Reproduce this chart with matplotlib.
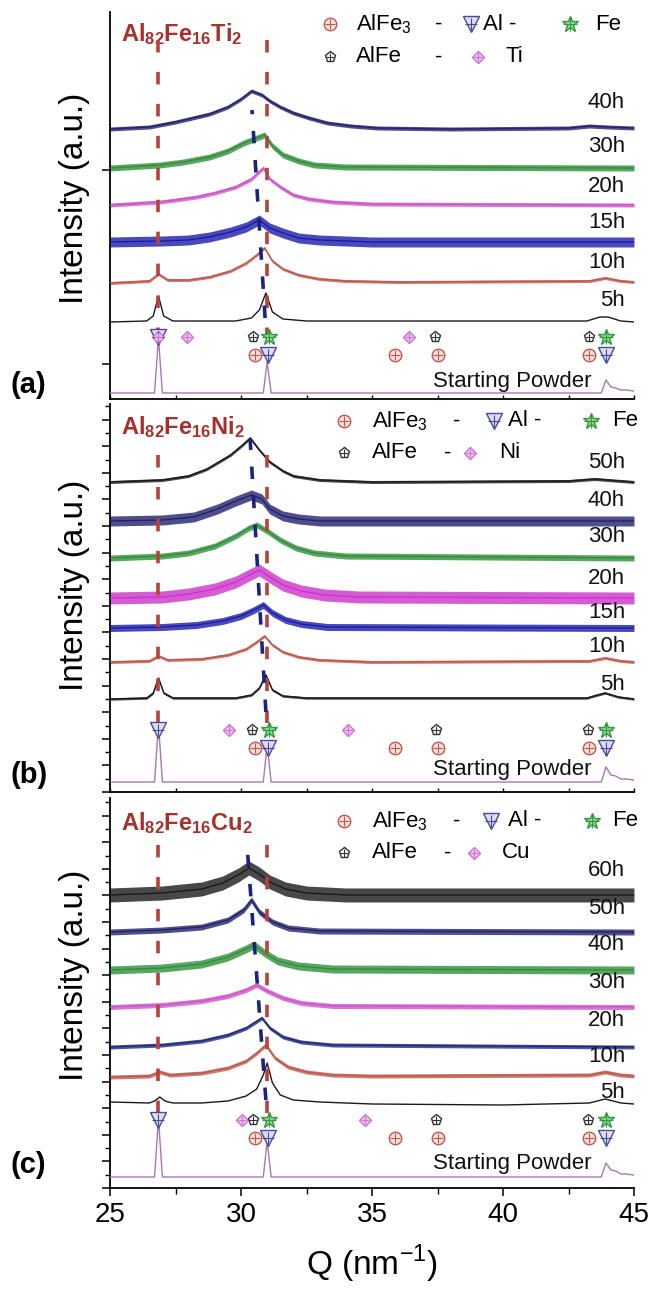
import matplotlib.pyplot as plt
from matplotlib.ticker import MultipleLocator, FixedLocator, NullFormatter
import numpy as np

plt.rcParams['font.family'] = 'Liberation Sans'
plt.rcParams['mathtext.fontset'] = 'custom'
plt.rcParams['mathtext.rm'] = 'Liberation Sans'
plt.rcParams['mathtext.bf'] = 'Liberation Sans:bold'
plt.rcParams['lines.scale_dashes'] = False

# colours
black = '#1a1a1a'
navy = '#22226e'
green = '#2f8f3a'
magenta = '#cc55cc'
blue = '#1c1caa'
brown = '#c0584e'
powder = '#a878b0'
dash_red = '#b8413a'
dash_navy = '#1a237e'
title_red = '#a8302a'

# ---------------- data: (Q, height above baseline) ----------------
# panel (a) Al82Fe16Ti2
a_sp = [(25, 0), (26.7, 0), (26.85, 55), (27.0, 0), (30.85, 0), (31.0, 31), (31.15, 0),
        (43.75, 0), (43.93, 13), (44.12, 6), (44.3, 5), (44.5, 3), (44.7, 3), (45, 2)]
a_5h = [(25, 0), (26.4, 1), (26.65, 6), (26.85, 26), (27.05, 6), (27.4, 1), (29.8, 1), (30.4, 4),
        (30.7, 12), (30.95, 29), (31.2, 10), (31.6, 3), (32.5, 1), (43.2, 1), (43.7, 5), (44.0, 5),
        (44.5, 1), (45, 0)]
a_10h = [(25, 0), (26.5, 2), (26.85, 9), (27.2, 3), (28.0, 3), (28.8, 6), (29.6, 12), (30.2, 20),
         (30.6, 28), (30.9, 35), (31.2, 22), (31.6, 14), (32.2, 8), (33, 4), (34, 2), (36, 1),
         (43.3, 2), (43.9, 5), (44.5, 2), (45, 1)]
a_15h = [(25, 0), (27, 1), (28, 2), (28.8, 5), (29.6, 10), (30.2, 15), (30.7, 22), (31.1, 14),
         (31.6, 9), (32.2, 4), (33, 2), (35, 0), (45, 0)]
a_20h = [(25, 0), (26.9, 3), (27.5, 5), (28.3, 8), (29, 12), (29.8, 18), (30.4, 26), (30.85, 37),
         (31.1, 26), (31.5, 18), (32, 10), (32.6, 6), (33.5, 3), (35, 1), (45, 0)]
a_30h = [(25, 0), (26.9, 3), (27.8, 6), (28.8, 11), (29.5, 17), (30.1, 25), (30.5, 29), (30.9, 33),
         (31.2, 22), (31.6, 13), (32.2, 7), (32.8, 3), (34, 1), (45, 0)]
a_40h = [(25, 0), (26.5, 2), (27.5, 7), (28.8, 15), (29.5, 22), (30, 30), (30.4, 38), (30.8, 34),
         (31.1, 28), (31.5, 22), (32, 16), (32.6, 11), (33.3, 6), (34.2, 3), (35.2, 1), (38, 0),
         (42.5, 1), (43.3, 3), (44, 2), (45, 1)]
a_curves = [a_sp, a_5h, a_10h, a_15h, a_20h, a_30h, a_40h]
a_base = [6, 77, 116, 157, 194, 231, 270]
a_noise = [0.6, 1.0, 1.5, 5, 2, 3, 2]
a_colors = [powder, black, brown, blue, magenta, green, navy]
a_names = ['Starting Powder', '5h', '10h', '15h', '20h', '30h', '40h']

# panel (b) Al82Fe16Ni2
b_sp = [(25, 0), (26.7, 0), (26.85, 58), (27.0, 0), (30.85, 0), (31.0, 37), (31.15, 0),
        (43.75, 0), (43.93, 15), (44.12, 7), (44.3, 6), (44.5, 3), (44.7, 3), (45, 2)]
b_5h = [(25, 0), (26.4, 1), (26.65, 6), (26.85, 21), (27.05, 6), (27.4, 1), (29.8, 1), (30.4, 4),
        (30.7, 11), (30.95, 24), (31.2, 9), (31.6, 3), (32.5, 1), (43.2, 1), (43.6, 4), (43.9, 6),
        (44.4, 2), (45, 0)]
b_10h = [(25, 0), (26.5, 1), (26.85, 6), (27.2, 2), (28.5, 3), (29.5, 7), (30.2, 13), (30.6, 20),
         (30.9, 26), (31.2, 17), (31.6, 10), (32.2, 5), (33, 2), (35, 0), (43.3, 1), (43.9, 4),
         (44.5, 1), (45, 0)]
b_15h = [(25, 0), (27, 1), (28.3, 3), (29.3, 7), (30, 12), (30.5, 18), (30.85, 23), (31.2, 15),
         (31.7, 8), (32.3, 4), (33.3, 1), (45, 0)]
b_20h = [(25, 0), (27, 1), (28, 4), (29, 9), (29.8, 16), (30.4, 24), (30.7, 28), (31.1, 21),
         (31.6, 13), (32.3, 7), (33.2, 3), (34.5, 1), (45, 0)]
b_30h = [(25, 0), (27, 2), (28, 5), (29, 12), (29.8, 22), (30.3, 30), (30.6, 33), (31, 27),
         (31.5, 18), (32.1, 10), (32.8, 5), (34, 2), (45, 0)]
b_40h = [(25, 0), (27, 1), (28.2, 4), (29.1, 12), (29.8, 20), (30.4, 26), (30.8, 22), (31.1, 12),
         (31.6, 5), (32.2, 2), (33, 0), (45, 0)]
b_50h = [(25, 0), (27, 2), (28, 6), (28.7, 13), (29.6, 27), (30.1, 38), (30.35, 44), (30.7, 32),
         (31.1, 20), (31.6, 11), (32.0, 6), (33, 2), (35, 0), (42.5, 1), (43.5, 3), (44.5, 1), (45, 0)]
b_curves = [b_sp, b_5h, b_10h, b_15h, b_20h, b_30h, b_40h, b_50h]
b_base = [10, 93, 130, 164, 194, 234, 271, 310]
b_noise = [0.6, 1.2, 1.5, 3.5, 6, 3, 5, 1.5]
b_colors = [powder, black, brown, blue, '#cc33cc', green, navy, black]
b_names = ['Starting Powder', '5h', '10h', '15h', '20h', '30h', '40h', '50h']

# panel (c) Al82Fe16Cu2
c_sp = [(25, 0), (26.7, 0), (26.85, 58), (27.0, 0), (30.85, 0), (31.0, 36), (31.15, 0),
        (43.75, 0), (43.93, 14), (44.12, 7), (44.3, 6), (44.5, 3), (44.7, 3), (45, 2)]
c_5h = [(25, 3), (26.5, 2), (26.7, 4), (26.9, 8), (27.1, 4), (27.4, 2), (28.5, 2), (29.5, 4),
        (30.2, 9), (30.6, 16), (30.85, 30), (31.0, 42), (31.2, 22), (31.5, 10), (32, 5), (33, 3),
        (35, 1), (40, 0), (43.3, 2), (43.9, 6), (44.5, 2), (45, 1)]
c_10h = [(25, 0), (26.5, 1), (26.9, 5), (27.3, 2), (28.5, 4), (29.5, 9), (30.2, 16), (30.6, 24),
         (30.95, 32), (31.3, 19), (31.8, 10), (32.5, 5), (33.5, 2), (35, 1), (43.3, 2), (43.9, 5),
         (44.5, 2), (45, 1)]
c_20h = [(25, 0), (27, 2), (28.5, 6), (29.5, 12), (30.2, 19), (30.8, 29), (31.1, 19), (31.6, 10),
         (32.3, 5), (33.5, 2), (45, 0)]
c_30h = [(25, 0), (27, 2), (28.5, 6), (29.5, 11), (30.2, 17), (30.6, 22), (31.0, 16), (31.6, 9),
         (32.3, 4), (33.5, 1), (45, 0)]
c_40h = [(25, 0), (27, 2), (28.5, 6), (29.5, 13), (30.1, 20), (30.5, 25), (30.9, 17), (31.4, 9),
         (32.2, 4), (33.5, 1), (45, 0)]
c_50h = [(25, 0), (27, 2), (28.5, 5), (29.5, 12), (30.1, 22), (30.4, 32), (30.7, 20), (31.2, 10),
         (31.8, 4), (33, 1), (45, 0)]
c_60h = [(25, 0), (27, 2), (28.5, 6), (29.3, 12), (29.9, 20), (30.3, 27), (30.7, 21), (31.1, 13),
         (31.7, 6), (32.5, 2), (34, 0), (45, 0)]
c_curves = [c_sp, c_5h, c_10h, c_20h, c_30h, c_40h, c_50h, c_60h]
c_base = [11, 83, 111, 141, 181, 218, 256, 293]
c_noise = [0.6, 0.6, 2, 2, 2.5, 4, 3, 7]
c_colors = [powder, black, brown, '#1f2a80', magenta, green, navy, black]
c_names = ['Starting Powder', '5h', '10h', '20h', '30h', '40h', '50h', '60h']

# reflection markers (phase, Q)
a_row1 = [('Al', 26.85), ('Ti', 26.85), ('Ti', 27.92), ('AlFe', 30.45), ('Fe', 31.08),
          ('Ti', 36.4), ('AlFe', 37.4), ('AlFe', 43.3), ('Fe', 43.95)]
b_row1 = [('Al', 26.85), ('Ni', 29.55), ('AlFe', 30.42), ('Fe', 31.05), ('Ni', 34.1),
          ('AlFe', 37.44), ('AlFe', 43.24), ('Fe', 43.95)]
c_row1 = [('Al', 26.85), ('Cu', 30.05), ('AlFe', 30.46), ('Fe', 31.05), ('Cu', 34.73),
          ('AlFe', 37.44), ('AlFe', 43.24), ('Fe', 43.95)]
row2 = [('AlFe3', 30.55), ('Al', 31.02), ('AlFe3', 35.88), ('AlFe3', 37.5), ('AlFe3', 43.3),
        ('Al', 43.93)]

marker_style = {
    'AlFe3': dict(marker='o', ms=9, mec='#c0584e', mfc='#f6e0dc'),
    'AlFe': dict(marker='p', ms=8, mec='#333333', mfc='white'),
    'Al': dict(marker='v', ms=11, mec='#4a4a9a', mfc='#dcdcf2'),
    'Fe': dict(marker='*', ms=12, mec='#2e9b3a', mfc='#9ad49a'),
    'X': dict(marker='D', ms=6.5, mec='#d070d0', mfc='#f2c6f2'),
}

fig = plt.figure(figsize=(6.54, 12.99), dpi=100)
W, H = 654.0, 1299.0


def draw_marker(ax, phase, q, y):
    st = marker_style.get(phase, marker_style['X'])
    ax.plot([q], [y], ls='none', mew=1.0, zorder=6, **st)
    ax.plot([q], [y], ls='none', marker='+', ms=st['ms'] * 0.8, mew=0.8, color=st['mec'], zorder=7)


def draw_panel(ax, curves, bases, noises, colors, names, label_y, sp_y, row1, r1, r2,
               red_span, navy_line, title, legend_y, leg_x, xname, dash2):
    for pts, b, n, c in zip(curves, bases, noises, colors):
        q = np.array([p[0] for p in pts])
        h = np.array([p[1] for p in pts]) + b
        if n > 1:
            ax.fill_between(q, h - n, h + n, color=c, alpha=0.8, lw=0, zorder=2)
        ax.plot(q, h, color=c, lw=1.0, zorder=3)
    for name, ly in zip(names[1:], label_y):
        ax.text(44.66, ly, name, ha='right', va='center', fontsize=16, color='#111111', zorder=8)
    ax.text(43.36, sp_y, names[0], ha='right', va='center', fontsize=16, color='#111111', zorder=8)
    # guide lines
    for qq in (26.85, 31.0):
        ln, = ax.plot([qq, qq], red_span, color=dash_red, lw=2.6, zorder=4)
        ln.set_dashes((9, 14))
    ln, = ax.plot([navy_line[0], navy_line[2]], [navy_line[1], navy_line[3]], color=dash_navy,
                  lw=2.6, zorder=4)
    ln.set_dashes((9, 12))
    for ph, q in row1:
        draw_marker(ax, ph, q, r1)
    for ph, q in row2:
        draw_marker(ax, ph, q, r2)
    # title
    ax.text(25.42, 358, title, ha='left', va='baseline', fontsize=17, color=title_red)
    # legend
    y1, y2 = legend_y
    mx, tx, dx, m2x, t2x, m3x, t3x, m4x, t4x = leg_x
    draw_marker(ax, 'AlFe3', mx, y1)
    ax.text(tx, y1, r'AlFe$_{3}$', ha='left', va='center', fontsize=16)
    ax.text(dx, y1, '-', ha='center', va='center', fontsize=16)
    draw_marker(ax, 'Al', m2x, y1)
    ax.text(t2x, y1, 'Al -', ha='left', va='center', fontsize=16)
    draw_marker(ax, 'Fe', m3x, y1)
    ax.text(t3x, y1, 'Fe', ha='left', va='center', fontsize=16)
    draw_marker(ax, 'AlFe', mx, y2)
    ax.text(tx, y2, 'AlFe', ha='left', va='center', fontsize=16)
    ax.text(dash2, y2, '-', ha='center', va='center', fontsize=16)
    draw_marker(ax, 'X', m4x, y2)
    ax.text(t4x, y2, xname, ha='left', va='center', fontsize=16)


panels = [
    # top px, bottom px
    (12, 399), (404, 792), (798, 1188),
]
axes = []
for top, bot in panels:
    ax = fig.add_axes([110 / W, 1 - bot / H, 524 / W, (bot - top) / H])
    ax.set_xlim(25, 45)
    ax.set_ylim(0, bot - top)
    for s in ('top', 'right'):
        ax.spines[s].set_visible(False)
    for s in ('left', 'bottom'):
        ax.spines[s].set_linewidth(1.3)
    axes.append(ax)

ax_a, ax_b, ax_c = axes

draw_panel(ax_a, a_curves, a_base, a_noise, a_colors, a_names,
           [99, 137, 177, 213, 253, 297], 18, a_row1, 62, 44, (359, 64),
           (30.92, 81, 30.42, 289), r'$\mathbf{Al_{82}Fe_{16}Ti_{2}}$', (375, 342),
           (33.4, 34.39, 37.56, 38.78, 39.24, 42.56, 43.51, 39.05, 40.08), 'Ti', 37.56)
draw_panel(ax_b, b_curves, b_base, b_noise, b_colors, b_names,
           [107, 145, 180, 214, 255, 292, 329], 22, b_row1, 62, 44, (337, 64),
           (30.95, 80, 30.35, 352), r'$\mathbf{Al_{82}Fe_{16}Ni_{2}}$', (371, 339),
           (33.93, 35.0, 38.24, 39.66, 40.19, 43.36, 44.16, 38.75, 39.85), 'Ni', 37.9)
draw_panel(ax_c, c_curves, c_base, c_noise, c_colors, c_names,
           [96, 131, 168, 205, 243, 280, 318], 25, c_row1, 68, 50, (343, 68),
           (30.95, 88, 30.25, 336), r'$\mathbf{Al_{82}Fe_{16}Cu_{2}}$', (367, 335),
           (33.93, 35.0, 38.24, 39.54, 40.19, 43.4, 44.16, 38.9, 39.95), 'Cu', 37.9)

# ticks
ax_a.yaxis.set_major_locator(FixedLocator([35, 229]))
ax_a.yaxis.set_minor_locator(FixedLocator([]))
for ax in (ax_b, ax_c):
    ax.yaxis.set_major_locator(MultipleLocator(26.6))
    ax.yaxis.set_minor_locator(MultipleLocator(13.3))
for ax in axes:
    ax.yaxis.set_major_formatter(NullFormatter())
    ax.tick_params(axis='y', which='major', direction='out', length=6, width=1.1, left=True)
    ax.tick_params(axis='y', which='minor', direction='out', length=3.5, width=1.0)
    ax.xaxis.set_major_locator(MultipleLocator(5))
    ax.xaxis.set_minor_locator(MultipleLocator(2.5))
for ax in (ax_a, ax_b):
    ax.xaxis.set_major_formatter(NullFormatter())
    ax.tick_params(axis='x', which='both', direction='in', length=3, width=1.0)
ax_c.tick_params(axis='x', which='major', direction='out', length=6, width=1.1, labelsize=20,
                 pad=4)
ax_c.tick_params(axis='x', which='minor', direction='out', length=4, width=1.0)

# panel letters and axis labels
for lab, py in (('(a)', 385), ('(b)', 775), ('(c)', 1165)):
    fig.text(10 / W, 1 - py / H, lab, fontsize=21, fontweight='bold', ha='left', va='center')
for py in (198, 585, 975):
    fig.text(75 / W, 1 - py / H, 'Intensity (a.u.)', fontsize=24, rotation=90,
             ha='center', va='center')
fig.text(372 / W, 1 - 1264 / H, r'Q (nm$^{-1}$)', fontsize=24, ha='center', va='center')

fig.savefig('out.png', dpi=100)
